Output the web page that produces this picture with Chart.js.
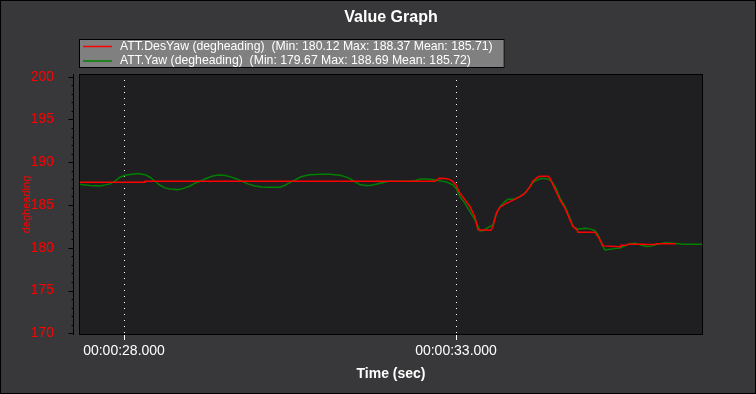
<!DOCTYPE html>
<html lang="en">
<head>
    <meta charset="UTF-8">
    <title>Value Graph</title>
    <script src="https://cdn.jsdelivr.net/npm/chart.js"></script>
    <style>
        body {
            margin: 0;
            background: #38383a;
        }
        .chart-container {
            width: 756px;
            height: 394px;
        }
    </style>
</head>
<body>

    <div class="chart-container">
        <canvas id="grafico"></canvas>
    </div>

    <script>
        // ATT.DesYaw - tempo (s) e valores
        const desYawTime = [27.322, 28.301, 28.316, 32.684, 32.744, 32.834, 32.910, 32.955, 33.000, 33.060,
            33.136, 33.211, 33.286, 33.331, 33.527, 33.557, 33.587, 33.617, 33.663, 33.738,
            33.813, 33.889, 33.964, 34.039, 34.114, 34.160, 34.220, 34.265, 34.386, 34.416,
            34.461, 34.521, 34.566, 34.642, 34.717, 34.762, 34.822, 34.837, 35.093, 35.139,
            35.184, 35.214, 35.470, 35.485, 35.575, 35.590, 35.846, 35.861, 35.997, 36.012,
            36.313];
        const desYawValues = [187.66, 187.66, 187.78, 187.78, 188.13, 188.10, 187.97, 187.73, 187.35, 186.38,
            185.60, 184.81, 183.60, 182.10, 182.06, 182.48, 183.46, 184.23, 184.74, 185.10,
            185.40, 185.68, 185.98, 186.38, 187.15, 187.82, 188.20, 188.37, 188.37, 188.13,
            187.35, 186.38, 185.60, 184.63, 183.26, 182.48, 182.10, 181.82, 181.82, 181.30,
            180.72, 180.22, 180.12, 180.30, 180.30, 180.42, 180.42, 180.37, 180.37, 180.46,
            180.46];

        // ATT.Yaw
        const yawTime = [27.322, 27.488, 27.639, 27.789, 27.864, 27.940, 28.015, 28.120, 28.211, 28.316,
            28.392, 28.467, 28.542, 28.617, 28.693, 28.813, 28.889, 28.994, 29.069, 29.145,
            29.220, 29.325, 29.416, 29.506, 29.596, 29.687, 29.777, 29.867, 29.973, 30.078,
            30.169, 30.349, 30.425, 30.500, 30.575, 30.651, 30.726, 30.801, 30.952, 31.102,
            31.178, 31.253, 31.328, 31.404, 31.479, 31.554, 31.630, 31.705, 31.780, 31.855,
            31.931, 32.006, 32.307, 32.383, 32.458, 32.533, 32.608, 32.759, 32.864, 32.955,
            33.000, 33.060, 33.136, 33.211, 33.286, 33.361, 33.407, 33.467, 33.557, 33.602,
            33.663, 33.738, 33.783, 33.873, 33.964, 34.039, 34.114, 34.160, 34.220, 34.295,
            34.386, 34.446, 34.506, 34.566, 34.642, 34.717, 34.762, 34.837, 34.943, 35.018,
            35.093, 35.139, 35.169, 35.199, 35.244, 35.319, 35.395, 35.470, 35.545, 35.620,
            35.696, 35.801, 35.877, 35.952, 36.012, 36.148, 36.313, 36.419, 36.720];
        const yawValues = [187.43, 187.27, 187.23, 187.47, 187.80, 188.25, 188.48, 188.60, 188.69, 188.55,
            188.25, 187.78, 187.31, 187.00, 186.88, 186.80, 186.92, 187.23, 187.55, 187.78,
            188.05, 188.36, 188.50, 188.48, 188.32, 188.08, 187.78, 187.47, 187.23, 187.11,
            187.08, 187.08, 187.31, 187.62, 187.93, 188.25, 188.43, 188.55, 188.60, 188.60,
            188.55, 188.48, 188.32, 188.08, 187.70, 187.39, 187.27, 187.27, 187.39, 187.55,
            187.70, 187.78, 187.78, 187.85, 188.05, 188.05, 188.00, 187.85, 187.66, 187.35,
            186.96, 185.98, 185.20, 184.23, 183.26, 181.98, 182.00, 182.29, 182.67, 183.84,
            184.81, 185.40, 185.68, 185.68, 185.98, 186.38, 187.15, 187.66, 187.93, 188.13,
            188.05, 187.73, 186.96, 185.79, 184.81, 183.46, 182.48, 182.17, 182.29, 182.21,
            182.01, 181.50, 180.92, 180.34, 179.75, 179.83, 179.90, 179.98, 180.22, 180.46,
            180.54, 180.30, 180.14, 180.22, 180.37, 180.60, 180.50, 180.42, 180.42];

        const seriesNames = ['ATT.DesYaw (degheading)', 'ATT.Yaw (degheading)'];
        const seriesMin = ['180.12', '179.67'];
        const seriesMax = ['188.37', '188.69'];
        const seriesMean = ['185.71', '185.72'];
        const seriesColors = ['#ff0000', '#008000'];

        const xTicks = [28, 33];
        const yTicks = [170, 175, 180, 185, 190, 195, 200];

        const FONT = "'Liberation Sans', Arial, sans-serif";
        Chart.defaults.font.family = FONT;

        function pares(t, v) {
            return t.map((x, i) => ({ x: x, y: v[i] }));
        }

        function formatarTempo(s) {
            const seg = Math.floor(s);
            const ms = Math.round((s - seg) * 1000);
            return '00:00:' + String(seg).padStart(2, '0') + '.' + String(ms).padStart(3, '0');
        }

        // fundo, eixo Y deslocado, título, legenda e bordas
        const moldura = {
            id: 'moldura',
            beforeDraw(chart) {
                const { ctx, chartArea: a } = chart;
                const y = chart.scales.y;
                ctx.save();
                ctx.fillStyle = '#38383a';
                ctx.fillRect(0, 0, chart.width, chart.height);
                ctx.fillStyle = '#1f1f21';
                ctx.fillRect(a.left, a.top, a.right - a.left, a.bottom - a.top);

                const ax = a.left - 5.5;
                ctx.strokeStyle = '#000';
                ctx.lineWidth = 1;
                ctx.beginPath();
                ctx.moveTo(ax, a.top);
                ctx.lineTo(ax, a.bottom);
                for (let v = yTicks[0]; v <= yTicks[yTicks.length - 1]; v++) {
                    const py = Math.round(y.getPixelForValue(v)) + 0.5;
                    const len = v % 5 === 0 ? 5 : 2;
                    ctx.moveTo(ax - len, py);
                    ctx.lineTo(ax, py);
                }
                ctx.stroke();
                ctx.restore();
            },
            afterDatasetsDraw(chart) {
                const { ctx, chartArea: a } = chart;
                ctx.save();
                ctx.strokeStyle = '#000';
                ctx.lineWidth = 1;
                ctx.strokeRect(a.left + 0.5, a.top + 0.5, a.right - a.left - 1, a.bottom - a.top - 1);
                ctx.restore();
            },
            afterDraw(chart) {
                const { ctx, chartArea: a } = chart;
                ctx.save();

                // título
                ctx.fillStyle = '#ffffff';
                ctx.font = 'bold 16px ' + FONT;
                ctx.textAlign = 'center';
                ctx.textBaseline = 'middle';
                ctx.fillText('Value Graph', (a.left + a.right) / 2, 18);

                // legenda
                ctx.font = '12.25px ' + FONT;
                const textos = seriesNames.map((n, i) =>
                    n + '  (Min: ' + seriesMin[i] + ' Max: ' + seriesMax[i] + ' Mean: ' + seriesMean[i] + ')');
                const larg = Math.max(...textos.map(t => ctx.measureText(t).width));
                const bx = a.left, by = 39;
                ctx.fillStyle = '#808080';
                ctx.fillRect(bx, by, larg + 53, 29);
                ctx.strokeStyle = '#000';
                ctx.strokeRect(bx + 0.5, by + 0.5, larg + 52, 28);
                ctx.textAlign = 'left';
                textos.forEach((t, i) => {
                    const ly = by + 7.5 + i * 14.5;
                    ctx.strokeStyle = seriesColors[i];
                    ctx.lineWidth = 1.5;
                    ctx.beginPath();
                    ctx.moveTo(bx + 4, ly);
                    ctx.lineTo(bx + 33, ly);
                    ctx.stroke();
                    ctx.fillStyle = '#ffffff';
                    ctx.fillText(t, bx + 41, ly);
                });

                // borda externa
                ctx.strokeStyle = '#000';
                ctx.lineWidth = 1;
                ctx.strokeRect(0.5, 0.5, chart.width - 1, chart.height - 1);
                ctx.restore();
            }
        };

        const ctx = document.getElementById('grafico').getContext('2d');
        const chart = new Chart(ctx, {
            type: 'line',
            data: {
                datasets: [{
                    label: seriesNames[0],
                    data: pares(desYawTime, desYawValues),
                    borderColor: seriesColors[0],
                    borderWidth: 1.5,
                    pointRadius: 0,
                    tension: 0,
                    fill: false
                }, {
                    label: seriesNames[1],
                    data: pares(yawTime, yawValues),
                    borderColor: seriesColors[1],
                    borderWidth: 1.5,
                    pointRadius: 0,
                    tension: 0,
                    fill: false
                }]
            },
            options: {
                responsive: true,
                maintainAspectRatio: false,
                animation: false,
                layout: {
                    padding: { top: 74, right: 53, left: 0, bottom: 0 }
                },
                plugins: {
                    legend: { display: false },
                    tooltip: { enabled: false }
                },
                scales: {
                    x: {
                        type: 'linear',
                        min: 27.322,
                        max: 36.720,
                        afterFit: function(scale) { scale.height = 59; },
                        afterBuildTicks: function(scale) {
                            scale.ticks = xTicks.map(v => ({ value: v }));
                        },
                        grid: {
                            color: '#ffffff',
                            lineWidth: 1,
                            tickLength: 5,
                            tickColor: '#ffffff'
                        },
                        border: { display: false, dash: [1, 5] },
                        ticks: {
                            color: '#ffffff',
                            font: { size: 14 },
                            padding: 3,
                            maxRotation: 0,
                            callback: function(value) {
                                return formatarTempo(value);
                            }
                        },
                        title: {
                            display: true,
                            text: 'Time (sec)',
                            color: '#ffffff',
                            font: { size: 14, weight: 'bold' },
                            padding: { top: 4, bottom: 11 }
                        }
                    },
                    y: {
                        min: 169.80,
                        max: 200.32,
                        afterFit: function(scale) { scale.width = 79; },
                        afterBuildTicks: function(scale) {
                            scale.ticks = yTicks.map(v => ({ value: v }));
                        },
                        grid: { display: false },
                        border: { display: false },
                        ticks: {
                            color: '#ff0000',
                            font: { size: 14 },
                            padding: 17
                        },
                        title: {
                            display: true,
                            text: 'degheading',
                            color: '#ff0000',
                            font: { size: 11 },
                            padding: { top: 20, bottom: 0 }
                        }
                    }
                }
            },
            plugins: [moldura]
        });
    </script>

</body>
</html>
